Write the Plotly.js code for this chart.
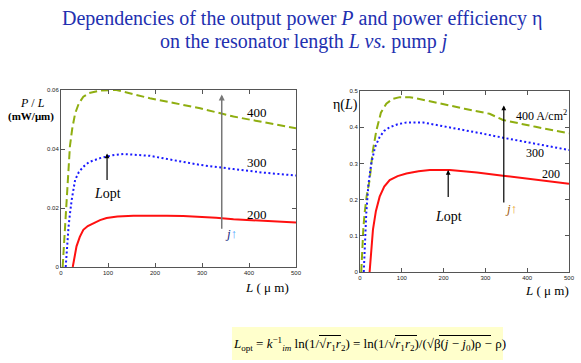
<!DOCTYPE html>
<html><head><meta charset="utf-8">
<script src="https://cdn.plot.ly/plotly-3.0.1.min.js"></script>
<style>body{margin:0;background:#fff}#c{width:581px;height:363px}</style>
</head><body><div id="c"></div>
<script>
// Left panel: P/L (mW/um) vs L (um)
const L400a = [3.5, 6, 9, 12, 15, 19, 24, 30, 38, 47.5, 60, 83, 118, 150, 189, 240, 296, 367, 430, 500];
const P400  = [0, 0.007, 0.014, 0.0205, 0.031, 0.041, 0.047, 0.052, 0.0555, 0.0577, 0.059, 0.0598, 0.06, 0.0588, 0.0572, 0.0556, 0.0538, 0.051, 0.049, 0.047];
const L300a = [10, 13, 16, 19, 23, 30, 38, 47.5, 60, 83, 110, 133, 160, 189, 240, 296, 367, 430, 500];
const P300  = [0, 0.008, 0.0135, 0.018, 0.023, 0.0295, 0.0322, 0.034, 0.0356, 0.0369, 0.0379, 0.0383, 0.0381, 0.0377, 0.0362, 0.0346, 0.0332, 0.032, 0.031];
const L200a = [25, 29, 33, 40, 47.5, 57, 69, 83, 97, 120, 154, 190, 225, 260, 296, 330, 367, 430, 500];
const P200  = [0, 0.0038, 0.007, 0.0102, 0.0126, 0.0139, 0.0149, 0.0159, 0.0166, 0.0171, 0.0174, 0.0175, 0.0174, 0.0173, 0.0171, 0.0167, 0.0162, 0.0157, 0.0151];
// Right panel: efficiency eta vs L
const L400b = [3, 5, 8, 11, 16, 23, 30, 39, 50, 63, 78, 95, 119, 150, 191, 250, 310, 342, 420, 500];
const E400  = [0, 0.06, 0.12, 0.162, 0.21, 0.254, 0.33, 0.39, 0.44, 0.465, 0.478, 0.483, 0.483, 0.476, 0.465, 0.451, 0.437, 0.42, 0.401, 0.383];
const L300b = [9, 11, 13, 15, 20, 27, 36, 47, 58, 71, 90, 111, 151, 190, 230, 290, 342, 420, 500];
const E300  = [0, 0.06, 0.12, 0.162, 0.24, 0.3, 0.345, 0.373, 0.39, 0.4, 0.408, 0.413, 0.413, 0.405, 0.396, 0.383, 0.371, 0.354, 0.337];
const L200b = [23, 26, 31, 38, 47, 58, 71, 90, 111, 140, 167, 215, 280, 342, 420, 500];
const E200  = [0, 0.05, 0.117, 0.168, 0.208, 0.236, 0.254, 0.265, 0.272, 0.278, 0.282, 0.282, 0.275, 0.266, 0.255, 0.244];
const xTicks = [0, 100, 200, 300, 400, 500];
const yTicksL = [0, 0.02, 0.04, 0.06];
const yTicksR = [0, 0.1, 0.2, 0.3, 0.4, 0.5];

const green = '#8fae10', blue = '#1a1aff', red = '#ff1010';
const DASH = '8px,4px', DOT = '2px,2.5px';
const traces = [
  {x:L400a, y:P400, xaxis:'x', yaxis:'y', mode:'lines', line:{color:green, width:2, dash:DASH}},
  {x:L300a, y:P300, xaxis:'x', yaxis:'y', mode:'lines', line:{color:blue, width:2, dash:DOT}},
  {x:L200a, y:P200, xaxis:'x', yaxis:'y', mode:'lines', line:{color:red, width:2}},
  {x:L400b, y:E400, xaxis:'x2', yaxis:'y2', mode:'lines', line:{color:green, width:2, dash:DASH}},
  {x:L300b, y:E300, xaxis:'x2', yaxis:'y2', mode:'lines', line:{color:blue, width:2, dash:DOT}},
  {x:L200b, y:E200, xaxis:'x2', yaxis:'y2', mode:'lines', line:{color:red, width:2}}
];
const W = 581, H = 363;
const ax = (d, vals, txt, anchor) => ({domain:d, anchor:anchor, range:[vals[0], vals[vals.length-1]], tickvals:vals, ticktext:txt,
  showline:true, linecolor:'#555', linewidth:1, mirror:'ticks', ticks:'inside', ticklen:4, tickcolor:'#555',
  showgrid:false, zeroline:false, tickfont:{family:'Liberation Sans', size:6, color:'#222'}, fixedrange:true});
const serif = 'Liberation Serif';
const ann = (xr, yr, x, y, text, size, color) => ({xref:xr, yref:yr, x:x, y:y, xanchor:'center', yanchor:'middle', text:text, showarrow:false,
  font:{family:serif, size:size||14, color:color||'#000'}});
const arrow = (xr, yr, x, y0, y1, color, w) => ({xref:xr, yref:yr, axref:xr, ayref:yr, x:x, y:y1, ax:x, ay:y0,
  text:'', showarrow:true, arrowhead:2, arrowsize:0.8, arrowwidth:w||1.2, arrowcolor:color||'#000'});
const bar = (x0, x1, y) => ({type:'line', xref:'paper', yref:'paper', x0:x0/W, x1:x1/W, y0:1-y/H, y1:1-y/H, line:{color:'#000', width:1}});
const layout = {
  width:W, height:H, margin:{l:0, r:0, t:0, b:0}, showlegend:false,
  paper_bgcolor:'#fff', plot_bgcolor:'#fff',
  xaxis: ax([61/W, 296/W], xTicks, xTicks.map(String), 'y'),
  yaxis: ax([96/H, 273/H], yTicksL, ['0','0.02','0.04','0.06'], 'x'),
  xaxis2: ax([360/W, 569/W], xTicks, xTicks.map(String), 'y2'),
  yaxis2: ax([91/H, 272/H], yTicksR, ['0','0.1','0.2','0.3','0.4','0.5'], 'x2'),
  shapes:[
    {type:'rect', xref:'paper', yref:'paper', x0:232/W, x1:503/W, y0:3/H, y1:36/H, fillcolor:'#ffffcc', line:{width:0}, layer:'below'},
    bar(319, 341, 335.5), bar(395, 417, 335.5), bar(439, 491, 335.5)
  ],
  annotations:[
    ann('paper','paper', 302/W, 1-18/H, 'Dependencies of the output power <i>P</i> and power efficiency η', 20, '#2230b0'),
    ann('paper','paper', 304/W, 1-41/H, 'on the resonator length <i>L vs.</i> pump <i>j</i>', 20, '#2230b0'),
    // left panel texts
    ann('paper','paper', 32/W, 1-103/H, '<i>P</i> / <i>L</i>', 12),
    ann('paper','paper', 31/W, 1-116/H, '<b>(mW/μm)</b>', 11),
    ann('paper','paper', 267/W, 1-287/H, '<i>L</i> ( μ m)', 13),
    ann('x','y', 417, 0.0525, '400', 13),
    ann('x','y', 417, 0.0355, '300', 13),
    ann('x','y', 417, 0.0177, '200', 13),
    arrow('x','y', 342, 0.0125, 0.0585, '#777', 1.5),
    ann('x','y', 362, 0.0115, '<i>j</i><span style="color:#4aa0ff">↑</span>', 13, '#1a2a80'),
    arrow('x','y', 98, 0.0290, 0.0385, '#000', 1.2),
    ann('x','y', 98, 0.0250, '<i>L</i>opt', 14),
    // right panel texts
    ann('paper','paper', 345/W, 1-105/H, 'η(<i>L</i>)', 14),
    ann('paper','paper', 547/W, 1-290/H, '<i>L</i> ( μ m)', 13),
    ann('x2','y2', 435, 0.432, '400 A/cm<sup>2</sup>', 12),
    ann('x2','y2', 418, 0.33, '300', 12),
    ann('x2','y2', 458, 0.27, '200', 12),
    arrow('x2','y2', 344, 0.188, 0.46, '#000', 1.2),
    ann('x2','y2', 361, 0.175, '<i>j</i><span style="color:#e8a020">↑</span>', 13, '#a06010'),
    arrow('x2','y2', 211, 0.203, 0.282, '#000', 1.2),
    ann('x2','y2', 211, 0.153, '<i>L</i>opt', 14),
    // formula
    ann('paper','paper', 369/W, 1-344/H,
     '<i>L</i><sub>opt</sub> = <i>k</i><sup>−1</sup><sub><i>im</i></sub> ln(1/√<i>r</i><sub>1</sub><i>r</i><sub>2</sub>) = ln(1/√<i>r</i><sub>1</sub><i>r</i><sub>2</sub>)/(√β(<i>j</i> − <i>j</i><sub>0</sub>)ρ − ρ)', 13)
  ]
};
Plotly.newPlot('c', traces, layout, {staticPlot:true});
</script></body></html>
